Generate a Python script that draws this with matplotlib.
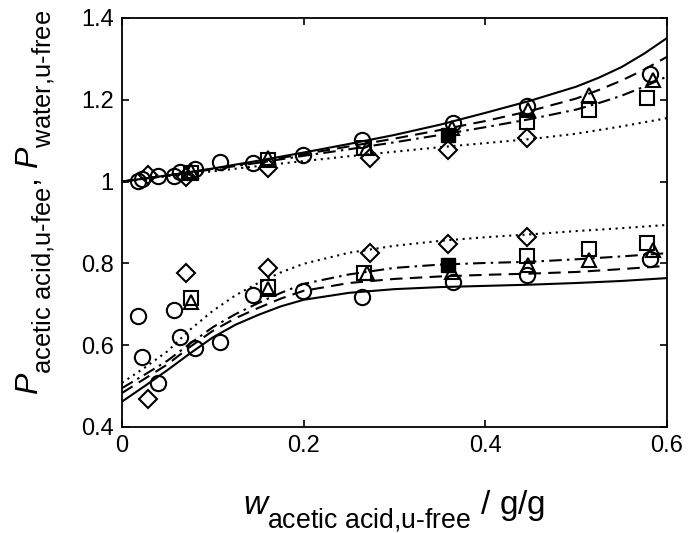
import numpy as np
import matplotlib
matplotlib.use('Agg')
import matplotlib.pyplot as plt
import matplotlib._mathtext as mathtext_internal

plt.rcParams['font.family'] = 'Liberation Sans'
plt.rcParams['mathtext.fontset'] = 'custom'
plt.rcParams['mathtext.rm'] = 'Liberation Sans'
plt.rcParams['mathtext.it'] = 'Liberation Sans:italic'
# subscripts in the reference are big and sit low
mathtext_internal.SHRINK_FACTOR = 0.8
mathtext_internal.FontConstantsBase.sub1 = 0.8

# model curves, water (upper) branch
xw = [0.0, 0.05, 0.1, 0.15, 0.2, 0.25, 0.3, 0.35, 0.4, 0.45, 0.5, 0.525,
      0.55, 0.575, 0.6]
water_solid = [1.000, 1.015, 1.032, 1.051, 1.071, 1.092, 1.114, 1.139, 1.168,
               1.198, 1.232, 1.254, 1.280, 1.313, 1.351]
water_dash = [1.000, 1.015, 1.031, 1.049, 1.067, 1.086, 1.105, 1.126, 1.148,
              1.173, 1.203, 1.224, 1.247, 1.274, 1.305]
water_dashdot = [1.000, 1.015, 1.030, 1.046, 1.063, 1.079, 1.096, 1.114, 1.133,
                 1.153, 1.176, 1.192, 1.210, 1.232, 1.257]
water_dot = [1.000, 1.013, 1.025, 1.038, 1.050, 1.062, 1.073, 1.084, 1.094,
             1.104, 1.117, 1.126, 1.135, 1.145, 1.155]

# model curves, acetic acid (lower) branch
xa = [0.0, 0.025, 0.05, 0.075, 0.1, 0.125, 0.15, 0.175, 0.2, 0.25, 0.3, 0.35,
      0.4, 0.45, 0.5, 0.55, 0.6]
acid_solid = [0.462, 0.500, 0.539, 0.580, 0.619, 0.650, 0.674, 0.695, 0.711,
              0.728, 0.737, 0.742, 0.745, 0.748, 0.752, 0.757, 0.764]
acid_dash = [0.483, 0.518, 0.553, 0.596, 0.635, 0.666, 0.691, 0.714, 0.733,
             0.752, 0.762, 0.768, 0.772, 0.775, 0.779, 0.786, 0.794]
acid_dashdot = [0.495, 0.528, 0.562, 0.604, 0.644, 0.676, 0.703, 0.728, 0.750,
                0.773, 0.789, 0.797, 0.801, 0.804, 0.810, 0.817, 0.825]
acid_dot = [0.508, 0.545, 0.585, 0.638, 0.684, 0.722, 0.752, 0.778, 0.799,
            0.826, 0.843, 0.855, 0.864, 0.871, 0.879, 0.886, 0.894]

# experimental points
circ_x = [0.018, 0.022, 0.040, 0.057, 0.064, 0.080, 0.108, 0.144, 0.199,
          0.264, 0.364, 0.446, 0.581]
circ_water = [1.002, 1.007, 1.014, 1.014, 1.024, 1.030, 1.048, 1.045, 1.065,
              1.102, 1.143, 1.185, 1.263]
circ_acid = [0.671, 0.571, 0.508, 0.686, 0.620, 0.593, 0.608, 0.723, 0.733,
             0.718, 0.755, 0.772, 0.811]

diam_x = [0.029, 0.070, 0.161, 0.273, 0.359, 0.446]
diam_water = [1.016, 1.010, 1.033, 1.058, 1.077, 1.107]
diam_acid = [0.468, 0.777, 0.789, 0.825, 0.847, 0.865]

sq_x = [0.076, 0.161, 0.266, 0.446, 0.514, 0.578]
sq_water = [1.021, 1.053, 1.082, 1.146, 1.175, 1.204]
sq_acid = [0.715, 0.742, 0.776, 0.818, 0.835, 0.850]

tri_x = [0.076, 0.161, 0.270, 0.363, 0.447, 0.514, 0.585]
tri_water = [1.025, 1.057, 1.082, 1.131, 1.175, 1.212, 1.248]
tri_acid = [0.706, 0.737, 0.776, 0.780, 0.796, 0.808, 0.833]

fsq_x = [0.359]
fsq_water = [1.114]
fsq_acid = [0.796]

fig = plt.figure(figsize=(6.88, 5.33), dpi=100)
ax = fig.add_axes([0.1773, 0.1989, 0.7922, 0.7674])

lw = 1.5
styles = ['-', (0, (6, 3.5)), (0, (6, 2.5, 1.2, 2.5)), (0, (1, 2.2))]
for ys, ya, ls in zip([water_solid, water_dash, water_dashdot, water_dot],
                      [acid_solid, acid_dash, acid_dashdot, acid_dot],
                      styles):
    ax.plot(xw, ys, color='k', lw=lw, linestyle=ls)
    ax.plot(xa, ya, color='k', lw=lw, linestyle=ls)

mk = dict(color='k', mfc='none', mew=1.5, linestyle='none')
for x, yw, ya, m, s in [(circ_x, circ_water, circ_acid, 'o', 11),
                        (diam_x, diam_water, diam_acid, 'D', 9),
                        (sq_x, sq_water, sq_acid, 's', 10),
                        (tri_x, tri_water, tri_acid, '^', 10.5)]:
    ax.plot(x, yw, marker=m, ms=s, **mk)
    ax.plot(x, ya, marker=m, ms=s, **mk)
ax.plot(fsq_x, fsq_water, marker='s', ms=10, color='k', linestyle='none')
ax.plot(fsq_x, fsq_acid, marker='s', ms=10, color='k', linestyle='none')

ax.set_xlim(0, 0.6)
ax.set_ylim(0.4, 1.4)
ax.set_xticks([0, 0.2, 0.4, 0.6])
ax.set_xticklabels(['0', '0.2', '0.4', '0.6'])
ax.set_yticks([0.4, 0.6, 0.8, 1.0, 1.2, 1.4])
ax.set_yticklabels(['0.4', '0.6', '0.8', '1', '1.2', '1.4'])
ax.tick_params(direction='in', length=5, width=1.2, labelsize=17,
               top=True, right=True, pad=6)
for sp in ax.spines.values():
    sp.set_linewidth(1.3)

ax.set_xlabel(r'$w_{\mathrm{acetic\ acid{,}u\text{-}free}}$ / g/g', fontsize=24)
ax.set_ylabel(r"$P_{\mathrm{acetic\ acid{,}u\text{-}fee}}$, "
              r"$P_{\mathrm{water{,}u\text{-}free}}$", fontsize=23)
ax.xaxis.set_label_coords(0.5, -0.15)
ax.yaxis.set_label_coords(-0.117, 0.548)

fig.savefig('out.png', dpi=100)
